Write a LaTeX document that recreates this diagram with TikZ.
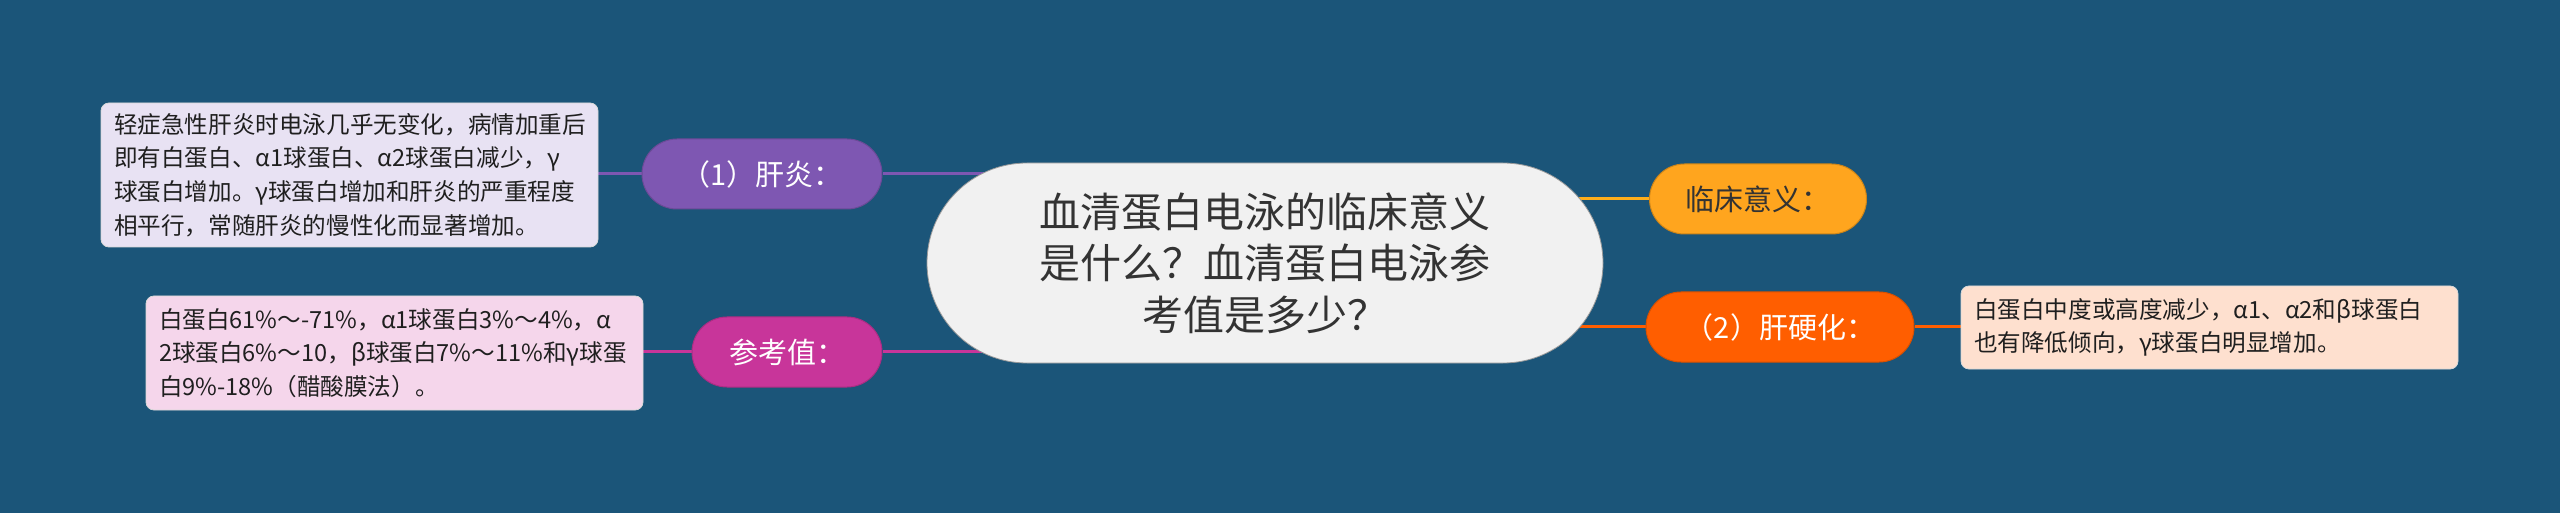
\documentclass[tikz,border=0pt]{standalone}
\usepackage{fontspec}
\setmainfont{Noto Sans CJK SC}
\definecolor{bgc}{HTML}{1B5579}
\definecolor{cfill}{HTML}{F1F1F1}
\definecolor{purp}{HTML}{7E57B2}
\definecolor{mag}{HTML}{C8359A}
\definecolor{org}{HTML}{FFA51E}
\definecolor{red}{HTML}{FF5E00}
\definecolor{lav}{HTML}{E8E2F3}
\definecolor{pnk}{HTML}{F5D6EB}
\definecolor{pch}{HTML}{FEE0CF}
\definecolor{dtext}{HTML}{333333}
\pgfdeclarelayer{back}
\pgfdeclarelayer{lines}
\pgfsetlayers{back,lines,main}
\begin{document}
\begin{tikzpicture}[x=0.5pt,y=-0.5pt,
  central/.style={fill=cfill, draw=black!40, line width=0.4pt, rounded corners=50pt,
    minimum width=338pt, minimum height=100pt, inner sep=0pt, align=center,
    text=dtext, font=\fontsize{20.5}{25.7}\selectfont},
  pill/.style={rounded corners=17.5pt, minimum height=35pt, inner sep=0pt,
    font=\fontsize{14.5}{17}\selectfont, text=white, line width=0.5pt},
  infobox/.style={rounded corners=4pt, align=left, inner xsep=6.5pt, inner ysep=0pt,
    text width=235.5pt, font=\fontsize{11.8}{16.8}\selectfont, text=black!88,
    draw=white!70!gray, line width=0.4pt},
  conn/.style={line width=1.5pt}
]
\begin{pgfonlayer}{back}
\fill[bgc] (0,0) rectangle (2560,513);
\end{pgfonlayer}
\useasboundingbox (0,0) rectangle (2560,513);

\node[central] (c) at (1265,263) {血清蛋白电泳的临床意义\\是什么？血清蛋白电泳参\\考值是多少？};

\node[pill, fill=org, draw=org!80!black, text=dtext, minimum width=108.5pt] (lc) at (1758,199) {临床意义：};
\node[pill, fill=red, draw=red!85!black, minimum width=134pt] (yh) at (1780,327) {（2）肝硬化：};
\node[pill, fill=purp, draw=purp!85!black, minimum width=120pt] (gy) at (762,174) {（1）肝炎：};
\node[pill, fill=mag, draw=mag!85!black, minimum width=95pt] (ck) at (787,352) {参考值：};

\node[infobox, fill=lav, minimum height=72pt] (b1) at (349.5,175) {轻症急性肝炎时电泳几乎无变化，病情加重后\\即有白蛋白、α1球蛋白、α2球蛋白减少，γ\\球蛋白增加。γ球蛋白增加和肝炎的严重程度\\相平行，常随肝炎的慢性化而显著增加。};
\node[infobox, fill=pnk, minimum height=57pt] (b2) at (394.5,353) {白蛋白61\%～-71\%，α1球蛋白3\%～4\%，α\\2球蛋白6\%～10，β球蛋白7\%～11\%和γ球蛋\\白9\%-18\%（醋酸膜法）。};
\node[infobox, fill=pch, minimum height=41.5pt] (b3) at (2209.5,327.5) {白蛋白中度或高度减少，α1、α2和β球蛋白\\也有降低倾向，γ球蛋白明显增加。};

\begin{pgfonlayer}{lines}
\draw[conn, draw=purp] (gy.east) -- (gy.east -| c.center);
\draw[conn, draw=mag] (ck.east) -- (ck.east -| c.center);
\draw[conn, draw=org!90!yellow] (lc.west) -- (lc.west -| c.center);
\draw[conn, draw=red] (yh.west) -- (yh.west -| c.center);
\draw[conn, draw=purp] (b1.east |- gy.west) -- (gy.west);
\draw[conn, draw=mag] (b2.east |- ck.west) -- (ck.west);
\draw[conn, draw=red] (yh.east) -- (b3.west |- yh.east);
\end{pgfonlayer}
\end{tikzpicture}
\end{document}
